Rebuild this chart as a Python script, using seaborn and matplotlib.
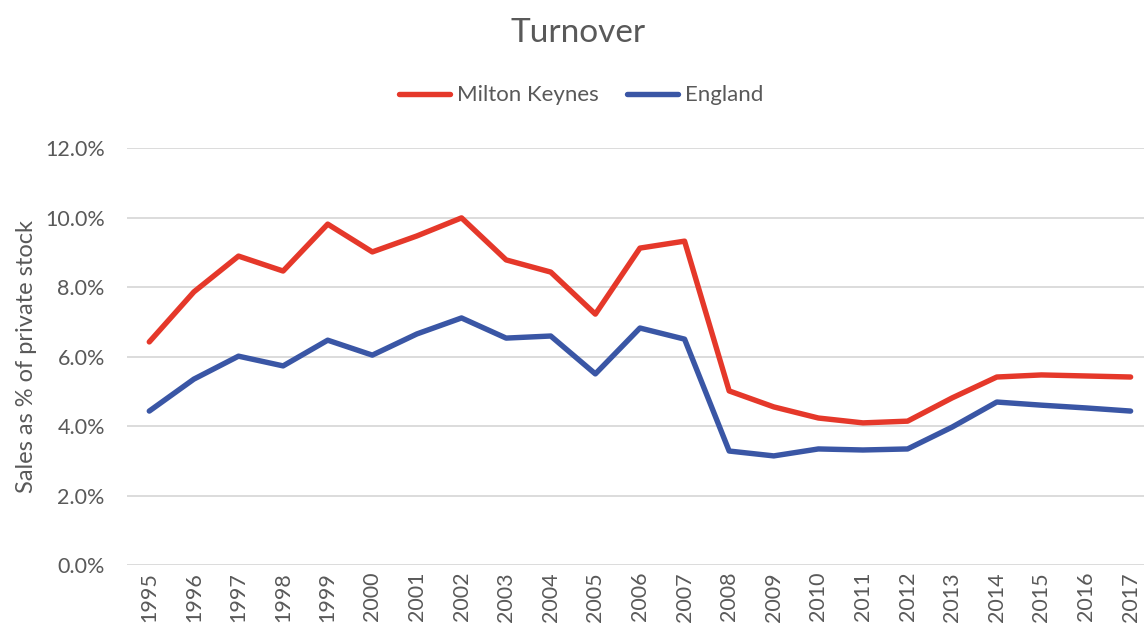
import pandas as pd
import seaborn as sns
import matplotlib.pyplot as plt
from matplotlib.ticker import PercentFormatter

years = [str(y) for y in range(1995, 2018)]
milton_keynes = [6.42, 7.86, 8.89, 8.46, 9.81, 9.01, 9.47, 9.99, 8.78, 8.43, 7.22, 9.12,
                 9.32, 5.01, 4.55, 4.23, 4.09, 4.14, 4.81, 5.41, 5.47, 5.44, 5.41]
england = [4.43, 5.35, 6.01, 5.73, 6.47, 6.04, 6.65, 7.11, 6.53, 6.59, 5.50, 6.82,
           6.50, 3.28, 3.14, 3.34, 3.31, 3.34, 3.97, 4.69, 4.60, 4.52, 4.43]
series_names = ['Milton Keynes', 'England']
colors = ['#E5382A', '#3A56A5']

df = pd.DataFrame({
    'year': years * 2,
    'value': milton_keynes + england,
    'series': [series_names[0]] * len(years) + [series_names[1]] * len(years),
})

sns.set_style('white')
plt.rcParams['font.family'] = ['Lato', 'DejaVu Sans']
text_color = '#595959'

fig = plt.figure(figsize=(11.44, 6.28), dpi=100)
ax = fig.add_axes([0.111, 0.1003, 0.889, 0.664])

sns.lineplot(data=df, x='year', y='value', hue='series', palette=colors,
             linewidth=3.9, sort=False, ax=ax, legend=False)

ax.set_ylim(0, 12)
ax.set_xlim(-0.5, 22.3)
ax.set_yticks([0, 2, 4, 6, 8, 10, 12])
ax.yaxis.set_major_formatter(PercentFormatter(decimals=1))
ax.grid(axis='y', color='#d9d9d9', linewidth=1.3)
ax.set_axisbelow(True)
for s in ax.spines.values():
    s.set_visible(False)

ax.tick_params(axis='x', labelrotation=90, labelsize=15.5, colors=text_color, length=0, pad=5)
ax.tick_params(axis='y', labelsize=15.5, colors=text_color, length=0, pad=16)
ax.set_xlabel('')
ax.set_ylabel('Sales as % of private stock', fontsize=17, color=text_color, labelpad=6)

fig.text(0.505, 0.948, 'Turnover', ha='center', va='center', fontsize=24, color=text_color)

handles = [plt.Line2D([], [], color=c, linewidth=3.9, solid_capstyle='round') for c in colors]
fig.legend(handles, series_names, loc='center', bbox_to_anchor=(0.508, 0.848), ncol=2,
           frameon=False, fontsize=16, labelcolor=text_color, handlelength=2.3,
           handletextpad=0.3, columnspacing=1.3)

fig.savefig('out.png', dpi=100)
